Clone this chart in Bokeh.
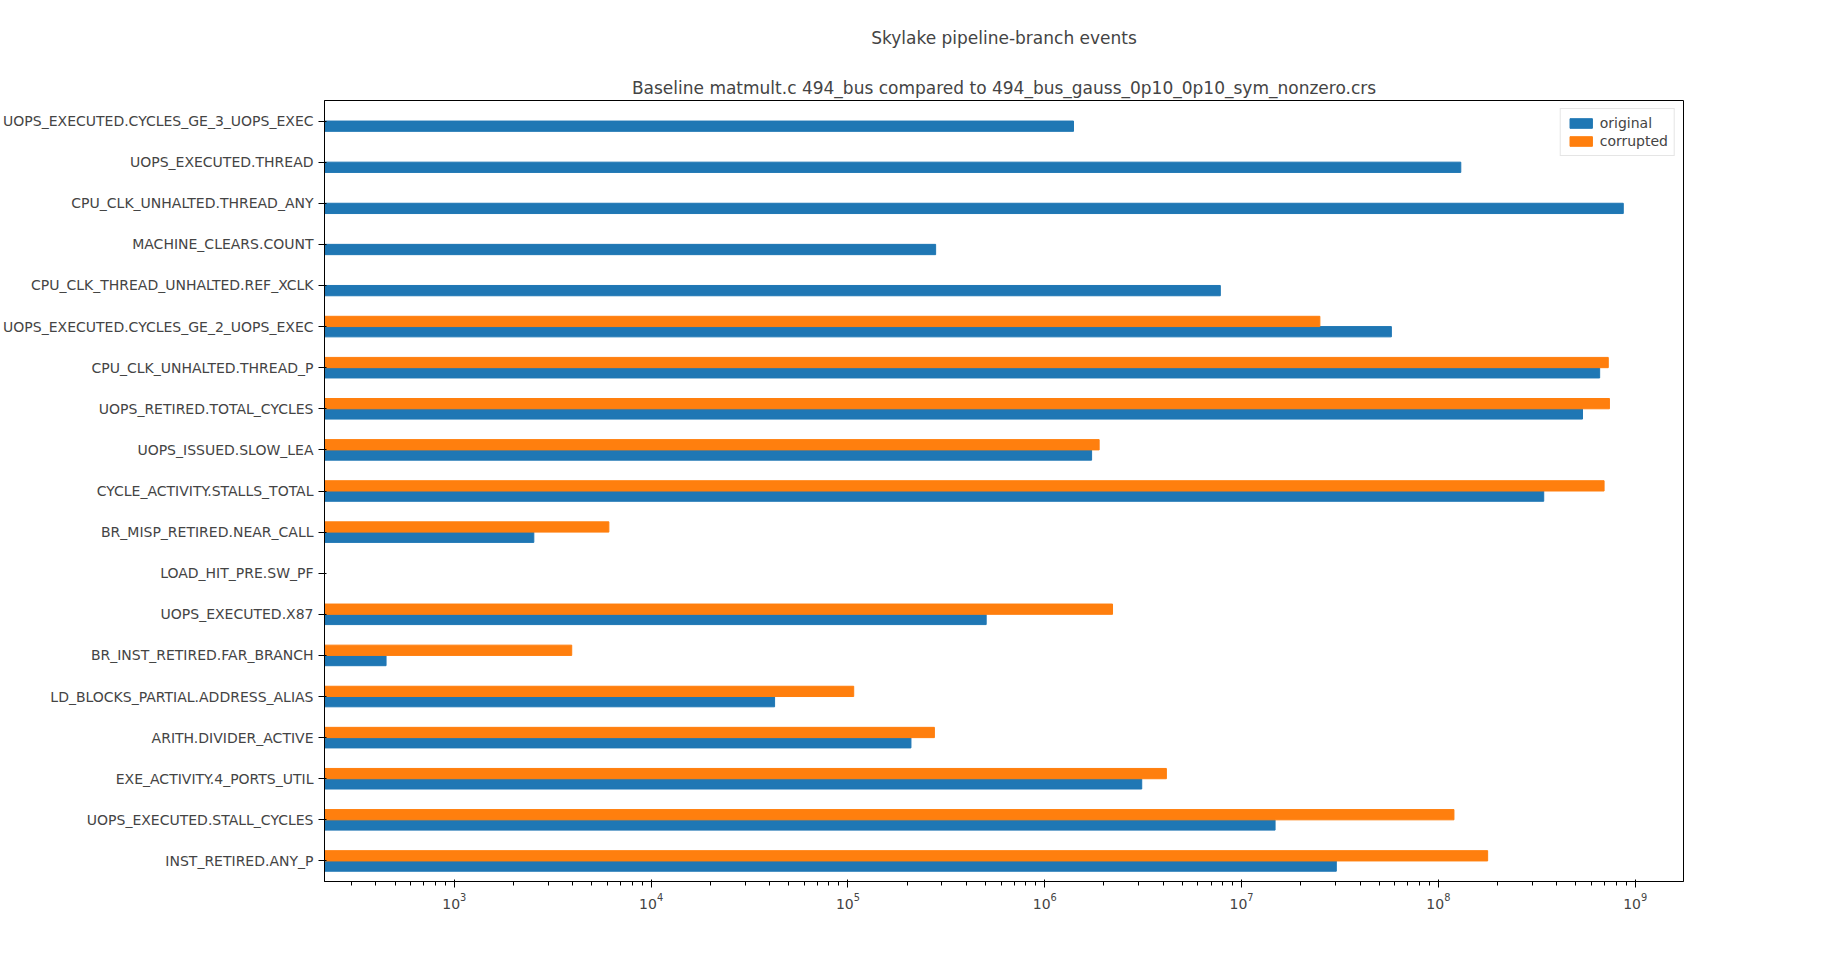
from bokeh.plotting import figure
from bokeh.models import ColumnDataSource, Title, FixedTicker, Legend, LegendItem
from bokeh.embed import file_html
from bokeh.resources import INLINE

events = [
    "UOPS_EXECUTED.CYCLES_GE_3_UOPS_EXEC",
    "UOPS_EXECUTED.THREAD",
    "CPU_CLK_UNHALTED.THREAD_ANY",
    "MACHINE_CLEARS.COUNT",
    "CPU_CLK_THREAD_UNHALTED.REF_XCLK",
    "UOPS_EXECUTED.CYCLES_GE_2_UOPS_EXEC",
    "CPU_CLK_UNHALTED.THREAD_P",
    "UOPS_RETIRED.TOTAL_CYCLES",
    "UOPS_ISSUED.SLOW_LEA",
    "CYCLE_ACTIVITY.STALLS_TOTAL",
    "BR_MISP_RETIRED.NEAR_CALL",
    "LOAD_HIT_PRE.SW_PF",
    "UOPS_EXECUTED.X87",
    "BR_INST_RETIRED.FAR_BRANCH",
    "LD_BLOCKS_PARTIAL.ADDRESS_ALIAS",
    "ARITH.DIVIDER_ACTIVE",
    "EXE_ACTIVITY.4_PORTS_UTIL",
    "UOPS_EXECUTED.STALL_CYCLES",
    "INST_RETIRED.ANY_P",
]
original = [1.40e6, 1.30e8, 8.7e8, 2.79e5, 7.8e6, 5.77e7, 6.6e8, 5.4e8, 1.73e6, 3.43e8,
            2535, 0, 5.04e5, 450, 42400, 2.09e5, 3.11e6, 1.48e7, 3.03e7]
corrupted = [0, 0, 0, 0, 0, 2.5e7, 7.3e8, 7.4e8, 1.89e6, 6.95e8,
             6100, 0, 2.21e6, 3950, 1.07e5, 2.75e5, 4.15e6, 1.2e8, 1.78e8]

n = len(events)
ypos = [n - 1 - i for i in range(n)]
BLUE, ORANGE = "#1f77b4", "#ff7f0e"
FONT = "DejaVu Sans"

def bars(vals, offset):
    ys = [y + offset for y, v in zip(ypos, vals) if v > 0]
    rs = [v for v in vals if v > 0]
    return ColumnDataSource(dict(y=ys, right=rs, left=[1] * len(rs)))

p = figure(width=1832, height=960, x_axis_type="log", x_range=(219, 1.76e9),
           y_range=(-0.5, n - 0.5), output_backend="svg", toolbar_location=None,
           min_border_left=234, min_border_right=149, min_border_bottom=79)
p.title.text = "Skylake pipeline-branch events"
p.title.align = "center"
p.title.text_font = FONT
p.title.text_font_size = "17px"
p.title.text_font_style = "normal"
p.title.standoff = 50
p.add_layout(Title(text="Baseline matmult.c 494_bus compared to 494_bus_gauss_0p10_0p10_sym_nonzero.crs",
                   align="center", text_font=FONT, text_font_size="17px",
                   text_font_style="normal", standoff=6), "above")

r1 = p.hbar(y="y", left="left", right="right", height=0.25, source=bars(original, -0.125),
            color=BLUE)
r2 = p.hbar(y="y", left="left", right="right", height=0.25, source=bars(corrupted, 0.125),
            color=ORANGE)

p.xgrid.visible = False
p.ygrid.visible = False
p.outline_line_color = "black"
p.xaxis.major_label_text_font = FONT
p.xaxis.major_label_text_font_size = "14px"
p.yaxis.ticker = FixedTicker(ticks=ypos)
p.yaxis.minor_tick_line_color = None
p.yaxis.major_label_overrides = {y: name for y, name in zip(ypos, events)}
p.yaxis.major_label_text_font = FONT
p.yaxis.major_label_text_font_size = "14px"

legend = Legend(items=[LegendItem(label="original", renderers=[r1]),
                       LegendItem(label="corrupted", renderers=[r2])],
                location="top_right", label_text_font=FONT, label_text_font_size="14px",
                border_line_color="#cccccc", glyph_height=12, glyph_width=28,
                spacing=2, padding=6, margin=8, label_height=14)
p.add_layout(legend)

open("out.html", "w").write(file_html(p, INLINE))
